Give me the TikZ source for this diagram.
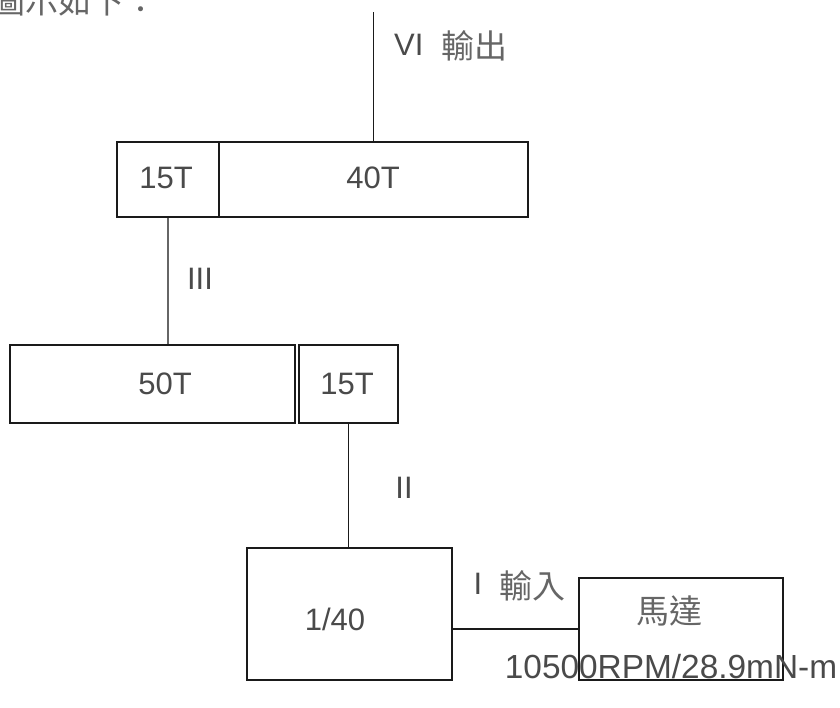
\documentclass[tikz,border=0pt]{standalone}
\usepackage{fontspec}
\setmainfont{Liberation Sans}
\newfontfamily\cjk{Noto Sans CJK TC}
\definecolor{txt}{HTML}{4A4A4A}
\definecolor{cjktxt}{HTML}{666666}
\definecolor{ln}{HTML}{1A1A1A}
\begin{document}
\begin{tikzpicture}[x=1pt,y=-1pt,
  box/.style={draw=ln, line width=1.6pt, inner sep=0pt, fill=white},
  lbl/.style={inner sep=0pt, text=txt, font=\fontsize{31}{31}\selectfont},
  clbl/.style={inner sep=0pt, text=cjktxt, font=\fontsize{33}{33}\selectfont\cjk},
  wire/.style={draw=ln, line width=1.6pt}]
\useasboundingbox[fill=white] (0,0) rectangle (840,707);
% caption at top (cut off, as in the reference)
\node[clbl, anchor=west] (cap) at (-8,1) {圖示如下：};
% top gear pair
\node[box, minimum width=102pt, minimum height=75pt] (b15a) at (168,179.5) {};
\node[box, minimum width=309pt, minimum height=75pt] (b40) at (373.5,179.5) {};
\node[lbl] (t15a) at (166,178) {15T};
\node[lbl] (t40) at (373,178) {40T};
\coordinate (outtop) at (373.5,12);
\draw[wire] (outtop) -- (b40.north);
\node[lbl, anchor=west] (vi) at (394,45) {VI};
\node[clbl, anchor=west] (out) at (441,46) {輸出};
% second pair
\node[box, minimum width=285pt, minimum height=78pt] (b50) at (152.5,384) {};
\node[box, minimum width=99pt, minimum height=78pt] (b15b) at (348.5,384) {};
\node[lbl] (t50) at (165,384) {50T};
\node[lbl] (t15b) at (347,384) {15T};
\draw[wire, draw=gray!80!black] (b15a.south) -- (b15a.south |- b50.north);
\node[lbl] (iii) at (200,279) {III};
% gearbox 1/40
\node[box, minimum width=205pt, minimum height=132pt] (g140) at (349.5,614) {};
\node[lbl] (t140) at (335,619) {1/40};
\draw[wire] (b15b.south) -- (b15b.south |- g140.north);
\node[lbl] (ii) at (404,488) {II};
% motor
\node[box, minimum width=204pt, minimum height=102pt] (motor) at (681,629) {};
\node[clbl] (tmotor) at (669,611) {馬達};
\draw[wire] (motor.west) -- (motor.west -| g140.east);
\node[lbl] (i) at (478,584) {I};
\node[clbl] (in) at (532,586) {輸入};
\node[inner sep=0pt, text=txt, font=\fontsize{33.4}{33.4}\selectfont] (spec) at (671,667) {10500RPM/28.9mN-m};
\end{tikzpicture}
\end{document}
